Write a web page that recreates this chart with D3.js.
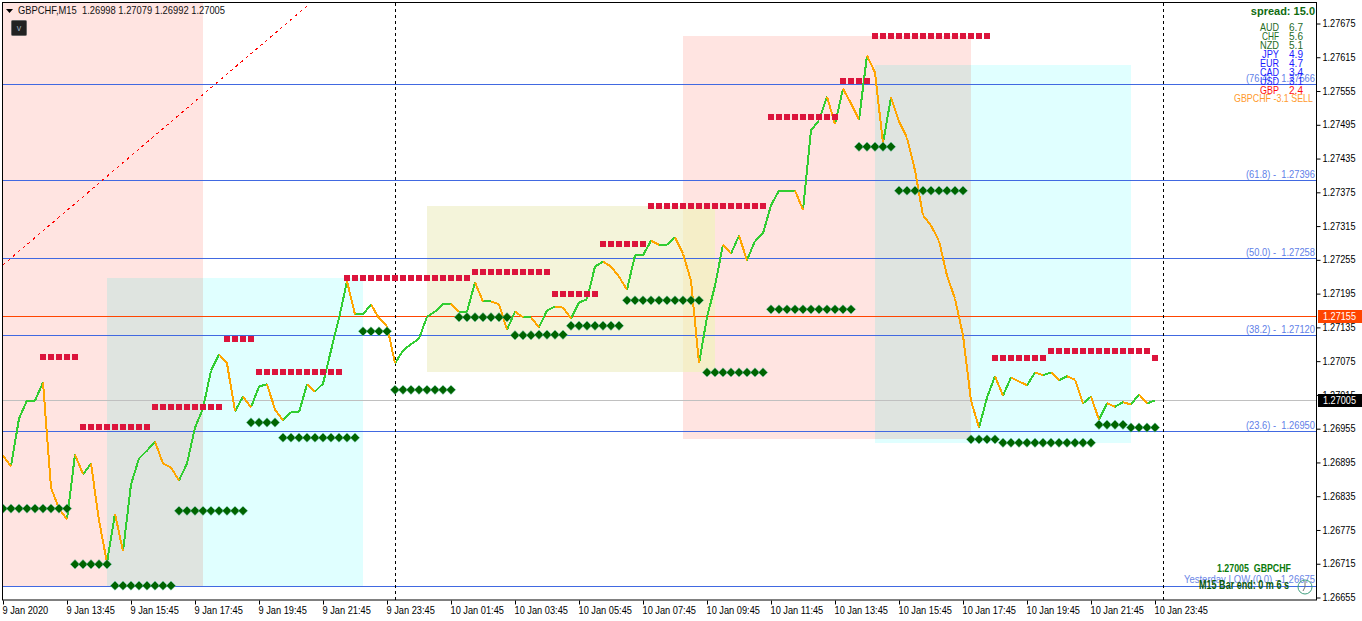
<!DOCTYPE html>
<html><head><meta charset="utf-8">
<style>html,body{margin:0;padding:0;background:#fff;overflow:hidden}svg{display:block}text{font-family:"Liberation Sans",Arial,sans-serif}</style>
<script src="https://cdn.jsdelivr.net/npm/d3@7"></script></head><body><div id="c"></div>
<script>
const closes=[1.26907,1.26888,1.26973,1.27005,1.27005,1.27037,1.26850,1.26813,1.26794,1.26909,1.26874,1.26893,1.26792,1.26717,1.26804,1.26737,1.26856,1.26902,1.26916,1.26932,1.26893,1.26886,1.26863,1.26893,1.26957,1.26991,1.27058,1.27087,1.27071,1.26986,1.27012,1.26993,1.27030,1.27034,1.26989,1.26970,1.26984,1.26984,1.27034,1.27021,1.27035,1.27094,1.27151,1.27217,1.27158,1.27158,1.27176,1.27151,1.27138,1.27071,1.27094,1.27105,1.27115,1.27154,1.27163,1.27177,1.27177,1.27163,1.27163,1.27215,1.27181,1.27181,1.27176,1.27131,1.27163,1.27153,1.27153,1.27135,1.27165,1.27172,1.27170,1.27151,1.27179,1.27185,1.27243,1.27252,1.27243,1.27225,1.27202,1.27263,1.27263,1.27289,1.27282,1.27282,1.27295,1.27266,1.27218,1.27071,1.27153,1.27209,1.27282,1.27266,1.27298,1.27254,1.27289,1.27302,1.27352,1.27378,1.27378,1.27378,1.27344,1.27485,1.27503,1.27545,1.27496,1.27559,1.27533,1.27504,1.27618,1.27588,1.27462,1.27544,1.27501,1.27472,1.27414,1.27334,1.27316,1.27289,1.27227,1.27186,1.27121,1.27005,1.26957,1.27010,1.27048,1.27014,1.27046,1.27039,1.27032,1.27055,1.27050,1.27055,1.27041,1.27048,1.27042,1.27000,1.27012,1.26971,1.27000,1.26994,1.27002,1.26998,1.27016,1.27000,1.27005];
// resistance runs: [first bar, last bar, price]
const resistance=[[5,9,1.27081],[10,18,1.26957],[19,27,1.26993],[28,31,1.27113],[32,42,1.27055],[43,58,1.27222],[59,68,1.27233],[69,74,1.27193],[75,80,1.27282],[81,95,1.27350],[96,104,1.27508],[105,108,1.27572],[109,123,1.27652],[124,130,1.27080],[131,143,1.27092],[144,144,1.27080]];
// support runs
const support=[[0,8,1.26813],[9,13,1.26714],[14,21,1.26676],[22,30,1.26809],[31,34,1.26966],[35,44,1.26939],[45,48,1.27128],[49,56,1.27024],[57,63,1.27153],[64,66,1.27121],[67,70,1.27122],[71,77,1.27138],[78,87,1.27183],[88,95,1.27055],[96,106,1.27167],[107,111,1.27456],[112,120,1.27378],[121,124,1.26936],[125,136,1.26930],[137,140,1.26962],[141,144,1.26957]];
// zones: [first bar, last bar, top price, bottom price, colour]
const zones=[[0,25,1.27800,1.26675,"#ffe4e1"],[13,45,1.27222,1.26675,"#e0ffff"],[53,89,1.27350,1.27055,"#f4f4da"],[85,121,1.27652,1.26936,"#ffe4e1"],[109,141,1.27602,1.26930,"#e0ffff"],[13,25,1.27222,1.26675,"#dfe4e0"],[85,89,1.27350,1.27055,"#f5eec8"],[109,121,1.27602,1.26936,"#dfe4e0"]];
const fibLevels=[["76.4",1.27566],["61.8",1.27396],["50.0",1.27258],["38.2",1.27120],["23.6",1.26950]];
const lowLevel=1.26675, bidLevel=1.27155, lastPrice=1.27005;
const priceTicks=[1.27675,1.27615,1.27555,1.27495,1.27435,1.27375,1.27315,1.27255,1.27195,1.27135,1.27075,1.27015,1.26955,1.26895,1.26835,1.26775,1.26715,1.26655];
const timeLabels=["9 Jan 2020","9 Jan 13:45","9 Jan 15:45","9 Jan 17:45","9 Jan 19:45","9 Jan 21:45","9 Jan 23:45","10 Jan 01:45","10 Jan 03:45","10 Jan 05:45","10 Jan 07:45","10 Jan 09:45","10 Jan 11:45","10 Jan 13:45","10 Jan 15:45","10 Jan 17:45","10 Jan 19:45","10 Jan 21:45","10 Jan 23:45"];
const sessionBars=[49,145];
const trendBars=[0,38.4], trendPrices=[1.27246,1.27711];
const strengthNames=["AUD","CHF","NZD","JPY","EUR","CAD","USD","GBP"];
const strengthValues=["6.7","5.6","5.1","4.9","4.7","3.4","3.1","2.4"];
const strengthColors=["#1f6b1f","#1f6b1f","#1f6b1f","#1a1aff","#1a1aff","#1a1aff","#1a1aff","#ff1010"];

const W=1362,H=621,L=3,T=3,R=1316,B=600;
const x=d3.scaleLinear().domain([0,144]).range([3,1155]);
const y=d3.scaleLinear().domain([1.27675,1.26655]).range([23.5,597.5]);
const svg=d3.select("#c").append("svg").attr("width",W).attr("height",H);
svg.append("defs").append("clipPath").attr("id","p").append("rect").attr("x",L).attr("y",T).attr("width",R-L).attr("height",B-T);
const g=svg.append("g").attr("clip-path","url(#p)");

g.selectAll(".z").data(zones).join("rect").attr("x",d=>x(d[0])).attr("width",d=>x(d[1])-x(d[0]))
 .attr("y",d=>y(d[2])).attr("height",d=>y(d[3])-y(d[2])).attr("fill",d=>d[4]).attr("shape-rendering","crispEdges");

const hline=(p,c)=>g.append("line").attr("x1",L).attr("x2",R).attr("y1",Math.floor(y(p))+.5).attr("y2",Math.floor(y(p))+.5).attr("stroke",c).attr("stroke-width",1);
fibLevels.forEach(f=>hline(f[1],"#4169e1"));
hline(lowLevel,"#4169e1");hline(lastPrice,"#c0c0c0");hline(bidLevel,"#ff4500");

sessionBars.forEach(b=>g.append("line").attr("x1",x(b)+.5).attr("x2",x(b)+.5).attr("y1",T).attr("y2",B).attr("stroke","#000").attr("stroke-dasharray","3,3"));
g.append("line").attr("x1",x(trendBars[0])).attr("x2",x(trendBars[1])).attr("y1",y(trendPrices[0])).attr("y2",y(trendPrices[1])).attr("stroke","#ff0000").attr("stroke-dasharray","3,3.5").attr("stroke-width",1).attr("shape-rendering","crispEdges");

const line=d3.line().x(d=>x(d[0])).y(d=>y(d[1]));
const pts=closes.map((c,i)=>[i,c]);
const segs=pts.slice(1).map(d=>({a:[d[0]-1,closes[d[0]-1]],b:d,down:d[1]<closes[d[0]-1]}));
// steep falls are solid orange; gentle falls keep a thin green edge, as in the source
g.selectAll(".up").data(segs.filter(s=>!s.down||Math.abs(y(s.a[1])-y(s.b[1]))<28)).join("path")
 .attr("d",s=>line([s.a,s.b])).attr("fill","none").attr("stroke","#32cd32").attr("stroke-width",2).attr("shape-rendering","crispEdges");
g.selectAll(".dn").data(segs.filter(s=>s.down)).join("path")
 .attr("d",s=>line([s.a,s.b])).attr("fill","none").attr("stroke","#ffa500").attr("stroke-width",2).attr("shape-rendering","crispEdges");

const expand=r=>r.flatMap(([a,b,p])=>d3.range(a,b+1).map(i=>[i,p]));
g.selectAll(".s").data(expand(support)).join("path")
 .attr("d",d3.symbol().type(d3.symbolSquare).size(44))
 .attr("transform",d=>`translate(${x(d[0])},${y(d[1])}) rotate(45)`)
 .attr("fill","#006400").attr("stroke","#7fd8d0").attr("stroke-width",.4);
g.selectAll(".r").data(expand(resistance)).join("rect")
 .attr("x",d=>x(d[0])-3).attr("y",d=>Math.floor(y(d[1]))-3).attr("width",6).attr("height",6).attr("fill","#dc143c");

// frame
svg.append("rect").attr("x",2.5).attr("y",2.5).attr("width",R-2).attr("height",B-2.5).attr("fill","none").attr("stroke","#000");

// fit a text to the width it has in the source
const fit=(s,w)=>s.attr("textLength",w).attr("lengthAdjust","spacingAndGlyphs");
const FONT='"Liberation Sans",Arial,sans-serif';
const axFont=g=>g.selectAll("text").attr("fill","#000").style("font-size","11px").style("font-family",FONT);
const ay=svg.append("g").attr("transform",`translate(${R+.5},0)`).call(d3.axisRight(y).tickValues(priceTicks).tickFormat(d3.format(".5f")).tickSize(4).tickPadding(2));
ay.select(".domain").remove();ay.selectAll("line").attr("stroke","#000");axFont(ay);
ay.selectAll("text").attr("dy",".28em").call(fit,33);
const tickIdx=timeLabels.map((d,i)=>i*8);
const ax=svg.append("g").attr("transform",`translate(0,${B+.5})`).call(d3.axisBottom(x).tickValues(tickIdx).tickFormat((d,i)=>timeLabels[i]).tickSize(4).tickPadding(2));
ax.select(".domain").remove();ax.selectAll("line").attr("stroke","#000");axFont(ax);
ax.selectAll("text").attr("text-anchor","start").attr("dx",-1).each(function(){const t=d3.select(this);fit(t,this.getComputedTextLength()*.84);});

// tags
[[bidLevel,"#ff4500"],[lastPrice,"#000"]].forEach(([p,c])=>{
 const yy=Math.floor(y(p));
 svg.append("rect").attr("x",1318).attr("y",yy-6).attr("width",44).attr("height",13).attr("fill",c);
 svg.append("text").attr("x",1323).attr("y",yy+4).attr("fill","#fff").style("font-size","11px").call(fit,33).text(d3.format(".5f")(p));
});

const txt=(t,xx,yy,c,o={})=>svg.append("text").attr("x",xx).attr("y",yy).attr("fill",c).attr("text-anchor",o.a||"start").style("font-size",(o.s||10)+"px").style("font-weight",o.b?"bold":"normal").style("white-space","pre").text(t);

fibLevels.forEach(f=>fit(txt(`(${f[0]}) -  ${d3.format(".5f")(f[1])}`,1315,Math.floor(y(f[1]))-2,"#5f7fe8",{a:"end",s:11}),69));

// header
svg.append("path").attr("d",d3.line()([[6,9],[13,9],[9.5,13]])+"Z").attr("fill","#000");
fit(txt("GBPCHF,M15  1.26998 1.27079 1.26992 1.27005",18,14,"#111",{s:11}),207);
svg.append("rect").attr("x",11.5).attr("y",20.5).attr("width",15).attr("height",15).attr("rx",1).attr("fill","#222").attr("stroke","#666");
txt("v",19,31,"#9ab",{a:"middle",s:9});

// strength panel
txt("spread: 15.0",1315,15,"#0f6b0f",{a:"end",s:11,b:true});
strengthNames.forEach((n,i)=>{
 const yy=31+i*9;
 fit(txt(n,1279,yy,strengthColors[i],{a:"end",s:11}),n==="JPY"||n==="CHF"?17:19);
 fit(txt(strengthValues[i],1289,yy,strengthColors[i],{s:11}),14);
});
fit(txt("GBPCHF -3.1 SELL",1313,102,"#ff9a2e",{a:"end",s:10.5}),79);

// bottom-right
fit(txt("1.27005  GBPCHF",1217,572,"#0a7a0a",{s:11,b:true}),74);
fit(txt("Yesterday LOW (0.0) - 1.26675",1315,583,"#6b86e6",{a:"end",s:11}),131);
fit(txt("M15 Bar end: 0 m 6 s",1199,589,"#0b5a0b",{s:12,b:true}),90);
svg.append("circle").attr("cx",1305).attr("cy",587).attr("r",7).attr("fill","none").attr("stroke","#3f9f7f");
svg.append("path").attr("d","M1305 581V587L1303 591").attr("fill","none").attr("stroke","#777");
</script></body></html>
